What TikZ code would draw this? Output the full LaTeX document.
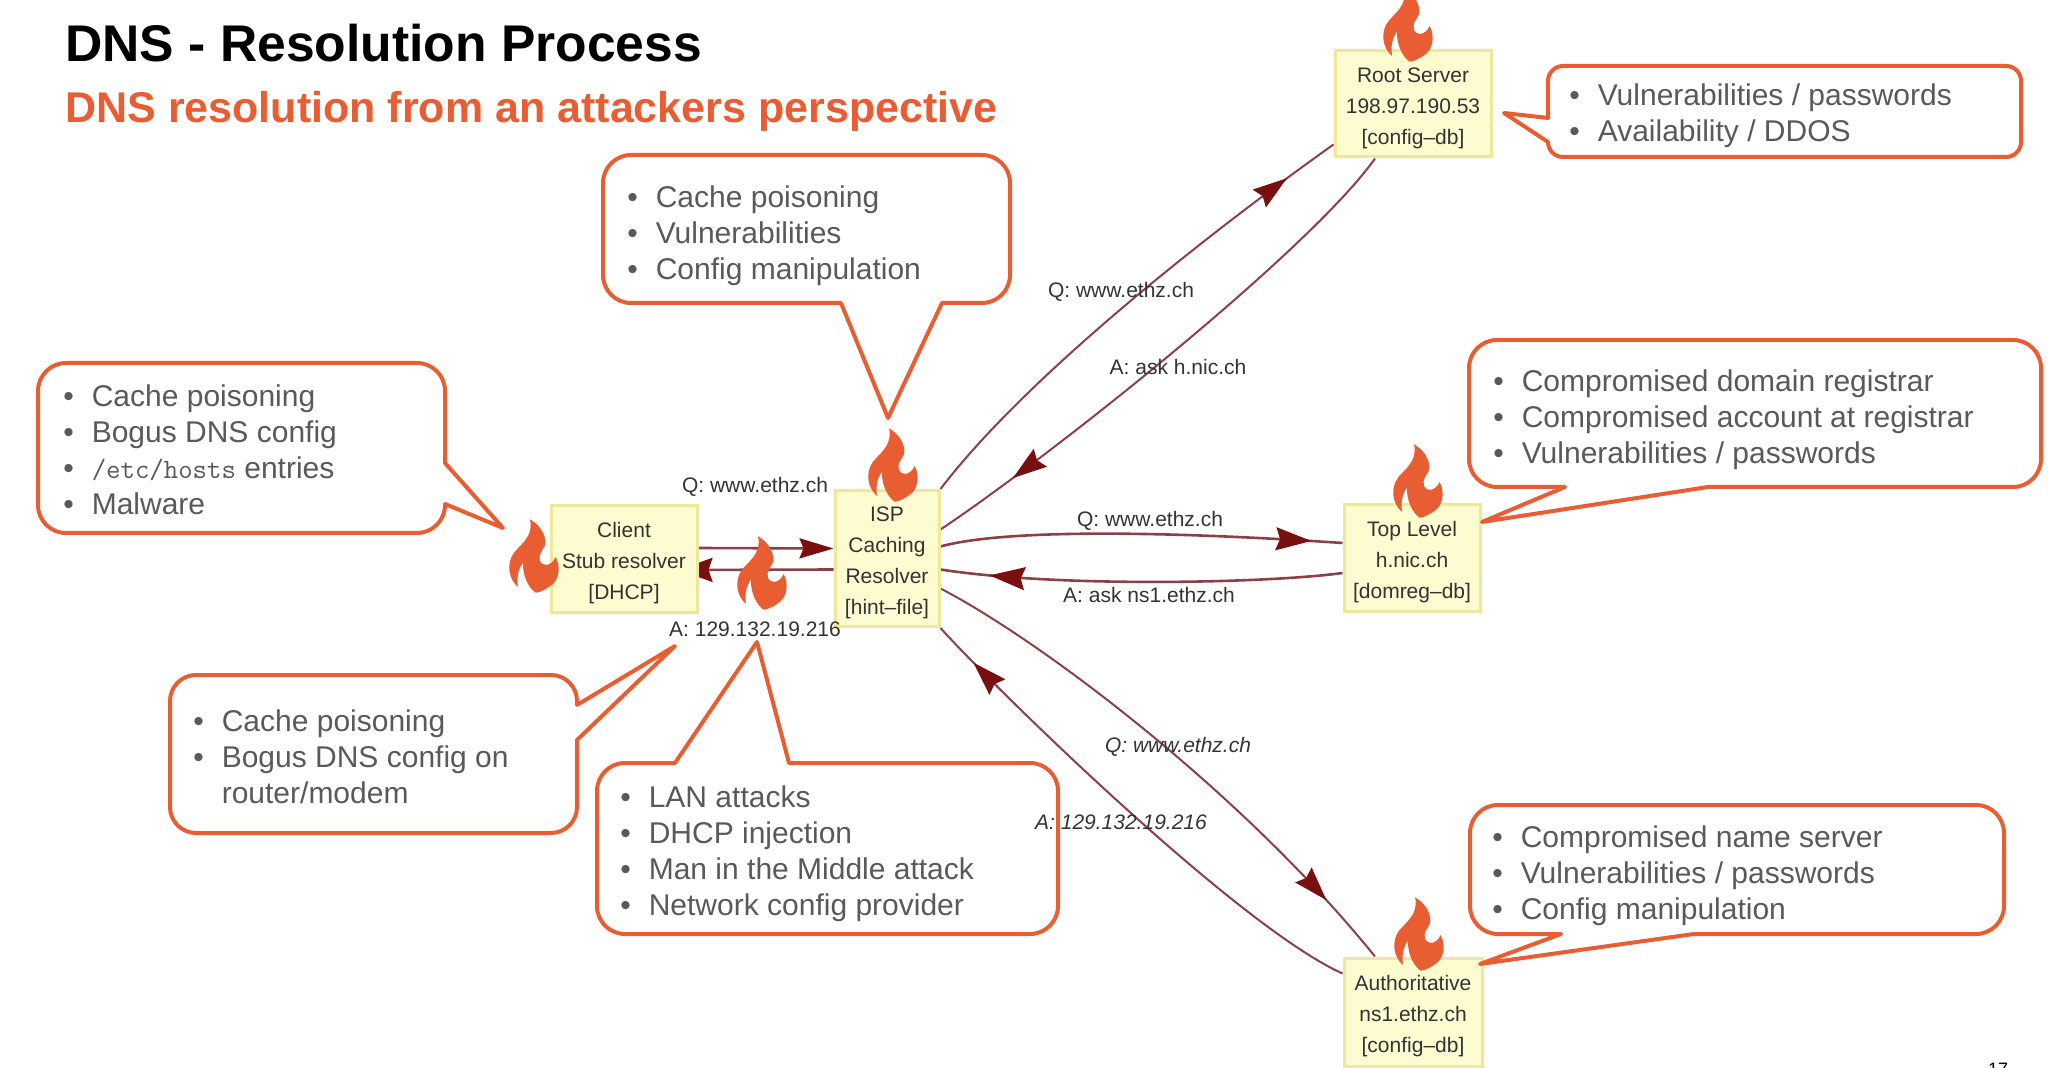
\documentclass[tikz,border=0pt]{standalone}
\usepackage{fontspec}
\setmainfont{Liberation Sans}
\usetikzlibrary{arrows.meta,backgrounds,decorations.markings}

\definecolor{attackOrange}{HTML}{E95D32}
\definecolor{noteGray}{HTML}{595959}
\definecolor{boxFill}{HTML}{FDFBD0}
\definecolor{boxLine}{HTML}{EFE79A}
\definecolor{flowLine}{HTML}{8A4048}
\definecolor{flowTip}{HTML}{7A0F0F}

\newcommand{\bul}{\makebox[11.7pt][l]{\hspace{-2.5pt}•}}
\newcommand{\firstline}{\rule{0pt}{11.5pt}}

\tikzset{
    flame/.pic={
        \fill[attackOrange, scale=1/3, shift={(-100,-135)}] (88,25)
            .. controls (125,45) and (140,85) .. (132,105)
            .. controls (125,120) and (112,130) .. (118,150)
            .. controls (122,165) and (150,170) .. (165,138)
            .. controls (180,165) and (178,210) .. (145,228)
            .. controls (130,238) and (115,245) .. (105,245)
            .. controls (85,232) and (65,195) .. (67,155)
            .. controls (52,175) and (48,200) .. (52,228)
            .. controls (25,205) and (15,160) .. (40,125)
            .. controls (60,100) and (100,75) .. (88,25) -- cycle;
    },
    midtip/.style={postaction={decorate, decoration={markings,
        mark=at position #1 with {\arrow{Stealth[length=17pt,width=11pt,inset=2pt,color=flowTip]}}}}},
    callout/.style={draw=attackOrange, line width=2pt, line join=round},
    notes/.style={anchor=west, align=left, inner sep=0, text=noteGray,
        font=\fontsize{15}{18}\selectfont},
}

\begin{document}
\begin{tikzpicture}[x=0.5pt, y=-0.5pt]
    \useasboundingbox (0,0) rectangle (2048,1068);

    \node[anchor=west, inner sep=0, font=\fontsize{25.8}{30}\selectfont\bfseries] (Title) at (65,43) {DNS - Resolution Process};
    \node[anchor=west, inner sep=0, text=attackOrange, font=\fontsize{21.5}{26}\selectfont\bfseries] (Subtitle) at (65,111) {DNS resolution from an attackers perspective};

    % servers
    \begin{scope}[every node/.style={rectangle, draw=boxLine, fill=boxFill, line width=1.5pt, align=center, inner sep=0, text=black!80, font=\fontsize{10.5}{15.4}\selectfont}]
        \node[minimum width=73pt, minimum height=53.5pt] (Client) at (624,559) {\firstline Client\\Stub resolver\\{}[DHCP]};
        \node[minimum width=52pt, minimum height=68pt] (Isp) at (887,558.5) {\firstline ISP\\Caching\\Resolver\\{}[hint–file]};
        \node[minimum width=78pt, minimum height=53pt] (Root) at (1413,104) {\firstline Root Server\\198.97.190.53\\{}[config–db]};
        \node[minimum width=68pt, minimum height=53pt] (Top) at (1412,558) {\firstline Top Level\\h.nic.ch\\{}[domreg–db]};
        \node[minimum width=69pt, minimum height=54pt] (Auth) at (1413,1012) {\firstline Authoritative\\ns1.ethz.ch\\{}[config–db]};
    \end{scope}

    % queries and answers
    \begin{scope}[on background layer, every path/.style={draw=flowLine, line width=1pt}]
        \path[line width=1.3pt, -{Stealth[length=17pt,width=10pt,inset=2pt,color=flowTip]}] ([yshift=5.5pt]Client.east) -- ([yshift=5pt]Isp.west);
        \path[line width=1.3pt, -{Stealth[length=17pt,width=12pt,inset=2pt,color=flowTip]}] ([yshift=-5.5pt]Isp.west) -- ([xshift=-10pt, yshift=-5.5pt]Client.east);
        \path[midtip=0.89] (Isp.north east) .. controls (1022,382) and (1195,243) .. ([yshift=7pt]Root.south west);
        \path[midtip=0.845] ([xshift=-19pt]Root.south) .. controls (1310,250) and (1052,455) .. ([yshift=14.5pt]Isp.east);
        \path[line width=1.3pt, midtip=0.92] ([yshift=6pt]Isp.east) .. controls (1000,530) and (1150,530) .. ([yshift=7.5pt]Top.west);
        \path[line width=1.3pt, midtip=0.875] ([yshift=-7.5pt]Top.west) .. controls (1270,583) and (1060,588) .. ([yshift=-5.5pt]Isp.east);
        \path[midtip=0.87] ([yshift=-15pt]Isp.east) .. controls (1040,640) and (1242,792) .. ([xshift=-19pt]Auth.north);
        \path[midtip=0.91] ([yshift=-8.5pt]Auth.north west) .. controls (1235,925) and (985,678) .. (Isp.south east);
    \end{scope}

    % flames on the attacked places
    \begin{scope}
        \clip (0,0) rectangle (2048,1068);
        \pic (FlameClient) at (534,556) {flame};
        \pic (FlameLan) at (762,573) {flame};
        \pic (FlameIsp) at (893,465) {flame};
        \pic (FlameRoot) at (1408,25) {flame};
        \pic (FlameTop) at (1418,481) {flame};
        \pic (FlameAuth) at (1419,934) {flame};
        \node[anchor=north, inner sep=0, font=\fontsize{9}{10}\selectfont] (PageNo) at (1998,1063) {17};
    \end{scope}

    \begin{scope}[every node/.style={inner sep=0, text=black!80, font=\fontsize{10.5}{13}\selectfont}]
        \node (ClientQ) at (755,487) {Q: www.ethz.ch};
        \node (ClientA) at (755,629) {A: 129.132.19.216};
        \node (RootQ) at (1121,292) {Q: www.ethz.ch};
        \node (RootA) at (1178,367) {A: ask h.nic.ch};
        \node (TopQ) at (1150,521) {Q: www.ethz.ch};
        \node (TopA) at (1149,595) {A: ask ns1.ethz.ch};
        \node (AuthQ) at (1178,747) {\itshape Q: www.ethz.ch};
        \node (AuthA) at (1121,822) {\itshape A: 129.132.19.216};
    \end{scope}

    % callouts
    \draw[callout, rounded corners=14pt] (700,155) -- (1010,155) -- (1010,303) [sharp corners] -- (942,303) -- (888,418) -- (841,303) [rounded corners=14pt] -- (603,303) -- (603,155) -- cycle;
    \draw[callout, rounded corners=14pt] (200,363) -- (445,363) [sharp corners] -- (445,463) -- (503,528) -- (445,504) [rounded corners=14pt] -- (445,533) -- (38,533) -- (38,363) -- cycle;
    \draw[callout, rounded corners=13pt] (300,675) -- (577,675) [sharp corners] -- (577,705) -- (675,646) -- (577,740) [rounded corners=13pt] -- (577,833) -- (170,833) -- (170,675) -- cycle;
    \draw[callout, rounded corners=14pt] (900,763) -- (1058,763) -- (1058,934) -- (597,934) -- (597,763) [sharp corners] -- (675,763) -- (757,642) -- (789,763) [rounded corners=14pt] -- cycle;
    \draw[callout, rounded corners=7.5pt] (1800,66) -- (2021,66) -- (2021,157) -- (1548,157) [sharp corners] -- (1548,142) -- (1504,113) -- (1548,118) [rounded corners=7.5pt] -- (1548,66) -- cycle;
    \draw[callout, rounded corners=14pt] (1800,340) -- (2041,340) -- (2041,487) [sharp corners] -- (1708,487) -- (1482,522) -- (1565,487) [rounded corners=14pt] -- (1469,487) -- (1469,340) -- cycle;
    \draw[callout, rounded corners=14pt] (1800,805) -- (2004,805) -- (2004,934) [sharp corners] -- (1694,934) -- (1480,964) -- (1561,934) [rounded corners=14pt] -- (1470,934) -- (1470,805) -- cycle;

    \node[notes] (IspNotes) at (632,236) {\bul Cache poisoning\\\bul Vulnerabilities\\\bul Config manipulation};
    \node[notes] (ClientNotes) at (68,450) {\bul Cache poisoning\\\bul Bogus DNS config\\\bul {\ttfamily\fontsize{14}{18}\selectfont /etc/hosts} entries\\\bul Malware};
    \node[notes] (StubNotes) at (198,757) {\bul Cache poisoning\\\bul Bogus DNS config on\\\hspace*{11.7pt}router/modem};
    \node[notes] (LanNotes) at (625,854) {\bul LAN attacks\\\bul DHCP injection\\\bul Man in the Middle attack\\\bul Network config provider};
    \node[notes] (RootNotes) at (1574,116) {\bul Vulnerabilities / passwords\\\bul Availability / DDOS};
    \node[notes] (TopNotes) at (1498,420) {\bul Compromised domain registrar\\\bul Compromised account at registrar\\\bul Vulnerabilities / passwords};
    \node[notes] (AuthNotes) at (1497,876) {\bul Compromised name server\\\bul Vulnerabilities / passwords\\\bul Config manipulation};
\end{tikzpicture}
\end{document}
